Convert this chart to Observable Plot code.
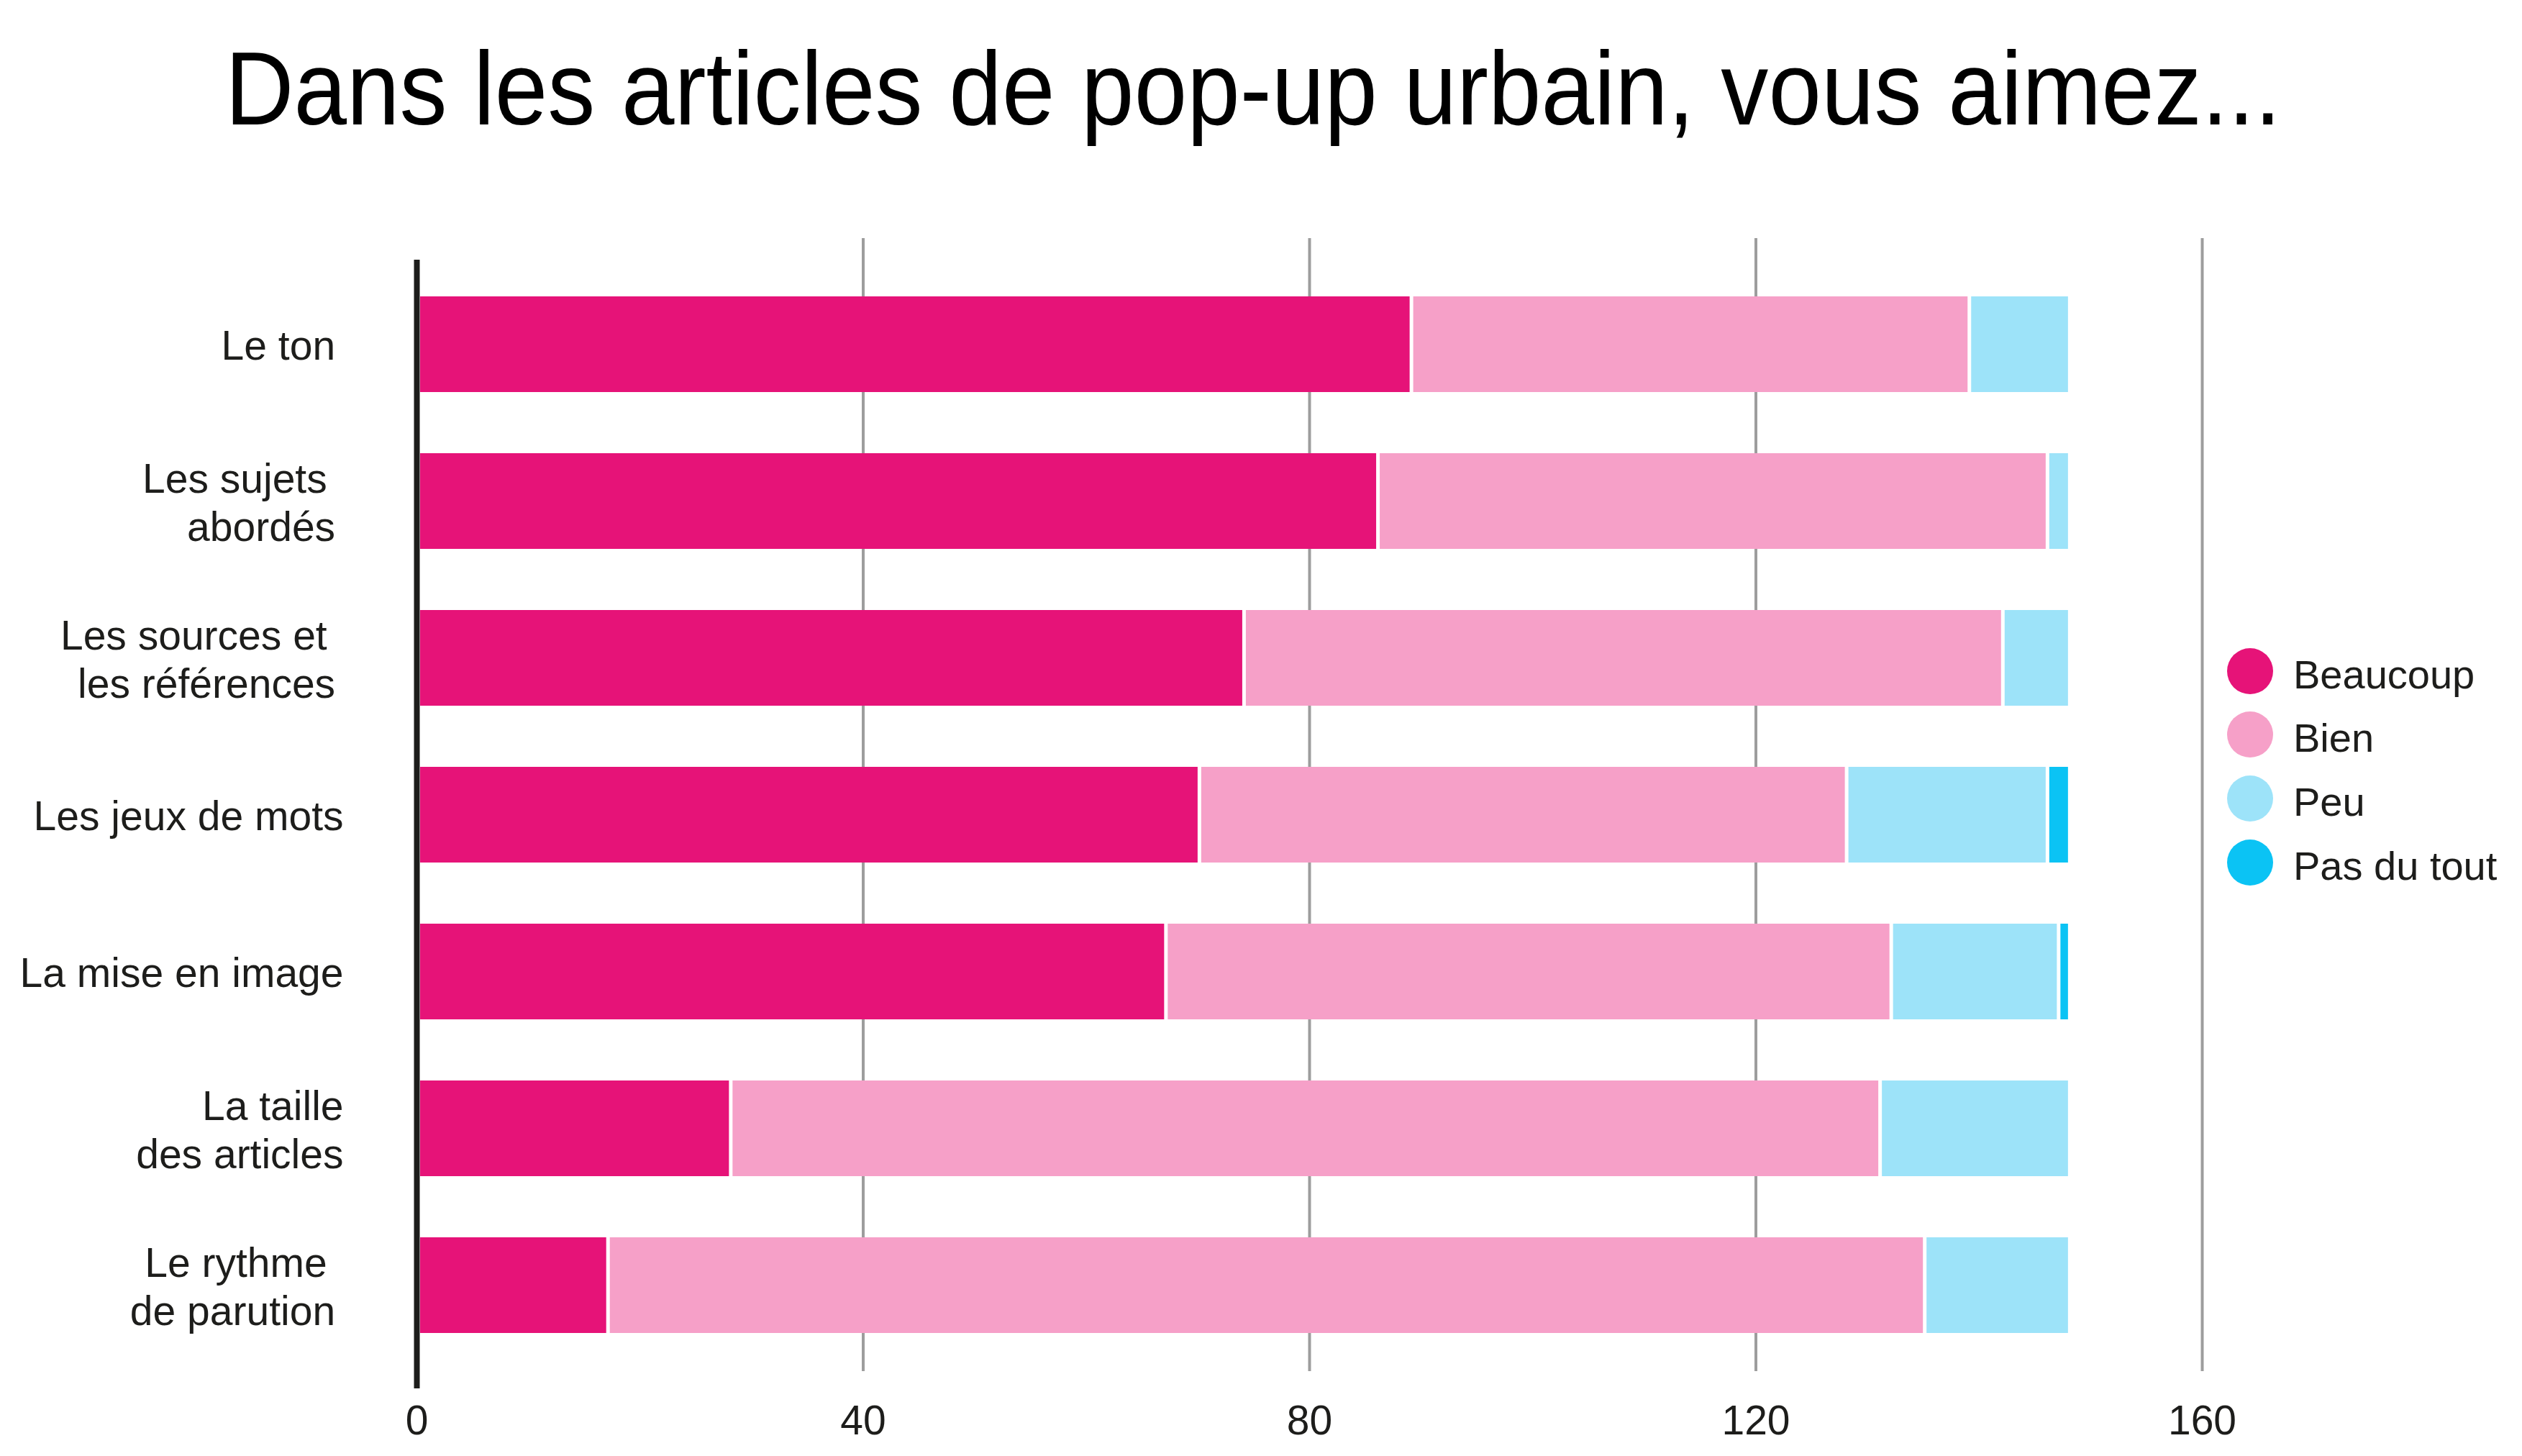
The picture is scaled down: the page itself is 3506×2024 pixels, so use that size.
<!DOCTYPE html>
<html>
<head>
<meta charset="utf-8">
<script src="https://cdn.jsdelivr.net/npm/d3@7"></script>
<script src="https://cdn.jsdelivr.net/npm/@observablehq/plot@0.6"></script>
<style>
  html, body { margin: 0; padding: 0; background: #fff; }
  #wrap { position: relative; width: 3506px; height: 2024px; overflow: hidden; font-family: "Liberation Sans", Arial, sans-serif; }
  #title { position: absolute; left: 0; top: 51px; width: 3484px; text-align: center; font-size: 145px; line-height: 145px; color: #000; white-space: nowrap; transform: scaleX(0.9116); transform-origin: 1742px 50%; }
  #chart { position: absolute; left: 0; top: 300px; }
  .leg { position: absolute; left: 3096px; height: 64px; display: flex; align-items: center; }
  .leg .dot { width: 64px; height: 64px; border-radius: 50%; flex: none; }
  .leg .lab { margin-left: 28px; font-size: 56px; line-height: 64px; color: #1d1d1b; position: relative; top: 5px; white-space: nowrap; }
</style>
</head>
<body>
<div id="wrap">
  <div id="title">Dans les articles de pop-up urbain, vous aimez...</div>
  <div id="chart"></div>
  <div id="legend"></div>
</div>
<script>
// ---- data ----
const categories = ["Le ton", "Les sujets abordés", "Les sources et les références", "Les jeux de mots", "La mise en image", "La taille des articles", "Le rythme de parution"];
const tickLabels = ["Le ton\u2009", "Les sujets\u2009\u2009\nabordés\u2009", "Les sources et\u2009\u2009\nles références\u2009", "Les jeux de mots", "La mise en image", "La taille\ndes articles", "Le rythme\u2009\u2009\nde parution\u2009"];
const series = ["Beaucoup", "Bien", "Peu", "Pas du tout"];
const beaucoup = [89, 86, 74, 70, 67, 28, 17];
const bien = [50, 60, 68, 58, 65, 103, 118];
const peu = [9, 2, 6, 18, 15, 17, 13];
const pasDuTout = [0, 0, 0, 2, 1, 0, 0];
const seriesColors = ["#e61378", "#f6a0c8", "#9de3f9", "#0bc3f4"];
const xTicks = [0, 40, 80, 120, 160];
const gridTicks = [40, 80, 120, 160];

// ---- table ----
const valuesBySeries = [beaucoup, bien, peu, pasDuTout];
const table = [];
categories.forEach((c, i) => {
  series.forEach((s, j) => {
    const v = valuesBySeries[j][i];
    if (v > 0) table.push({category: c, series: s, value: v});
  });
});

const chart = Plot.plot({
  width: 3506,
  height: 1724,
  marginLeft: 579,
  marginRight: 445,
  marginTop: 31,
  marginBottom: 118,
  style: {fontFamily: "Liberation Sans, Arial, sans-serif", color: "#1d1d1b", background: "white", overflow: "visible"},
  x: {domain: [0, 160], label: null},
  y: {domain: categories, range: [23.7, 1640.6], padding: 0.392, label: null},
  color: {domain: series, range: seriesColors},
  marks: [
    Plot.ruleX(gridTicks, {stroke: "#9d9d9d", strokeWidth: 4}),
    Plot.barX(table, Plot.stackX({x: "value", y: "category", fill: "series", insetLeft: 5, insetRight: 0})),
    Plot.ruleX([0], {stroke: "#1d1d1b", strokeWidth: 8, insetTop: 30, insetBottom: -24}),
    Plot.axisX({ticks: xTicks, tickSize: 0, tickPadding: 47, fontSize: 57, tickFormat: d => String(d)}),
    Plot.axisY({tickSize: 0, tickPadding: 102, fontSize: 57, lineHeight: 1.17, tickFormat: d => tickLabels[categories.indexOf(d)]})
  ]
});
document.getElementById("chart").appendChild(chart);

// ---- legend ----
const legend = document.getElementById("legend");
const legendCenters = [933, 1021, 1110, 1199];
series.forEach((s, j) => {
  const row = document.createElement("div");
  row.className = "leg";
  row.style.top = (legendCenters[j] - 32) + "px";
  const dot = document.createElement("div");
  dot.className = "dot";
  dot.style.background = seriesColors[j];
  const lab = document.createElement("span");
  lab.className = "lab";
  lab.textContent = s;
  row.appendChild(dot);
  row.appendChild(lab);
  legend.appendChild(row);
});
</script>
</body>
</html>
